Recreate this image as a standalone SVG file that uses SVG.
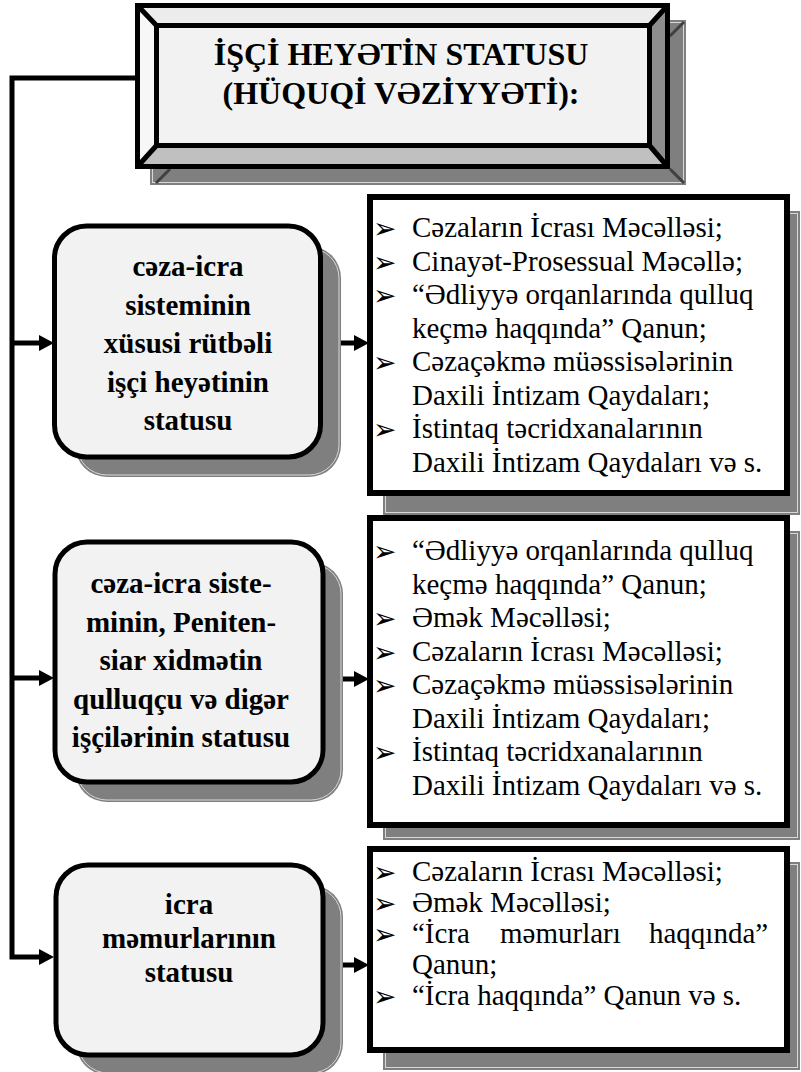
<svg xmlns="http://www.w3.org/2000/svg" width="801" height="1072" viewBox="0 0 801 1072">
<style>
.t{font-family:"Liberation Serif","DejaVu Serif","Times New Roman",serif;font-size:29px;fill:#000}
.b{font-family:"Liberation Serif","DejaVu Serif","Times New Roman",serif;font-size:29px;font-weight:bold;text-anchor:middle;fill:#000}
.h{font-family:"Liberation Serif","DejaVu Serif","Times New Roman",serif;font-size:32px;font-weight:bold;text-anchor:middle;fill:#000}
.bul{font-family:"DejaVu Sans",sans-serif;font-size:28px;fill:#000}
.sh{fill:#7f7f7f}
.shl{fill:none;stroke:#d8d8d8;stroke-width:1}
.lbox{fill:#f2f2f2;stroke:#000;stroke-width:5}
.rbox{fill:#fff;stroke:#000;stroke-width:6}
.conn{fill:none;stroke:#000;stroke-width:5}
</style>
<defs>
<marker id="ah" viewBox="0 0 15 16" refX="0" refY="8" markerWidth="15" markerHeight="16" markerUnits="userSpaceOnUse" orient="auto">
<path d="M0,0 L15,8 L0,16 z" fill="#000"/>
</marker>
</defs>
<rect width="801" height="1072" fill="#fff"/>

<g id="title">
<rect class="sh" x="150" y="20" width="536" height="165"/>
<rect class="shl" x="152.5" y="22.5" width="531" height="160"/>
<path d="M156,183 L170,169 M684,22 L670,36 M684,183 L670,169" stroke="#404040" stroke-width="3"/>
<polygon points="137.5,5.5 667.5,5.5 649.5,25.5 156.5,25.5" fill="#ececec"/>
<polygon points="137.5,5.5 156.5,25.5 156.5,145.5 137.5,166.5" fill="#f7f7f7"/>
<polygon points="137.5,166.5 156.5,145.5 649.5,145.5 667.5,166.5" fill="#c0c0c0"/>
<polygon points="667.5,5.5 649.5,25.5 649.5,145.5 667.5,166.5" fill="#8e8e8e"/>
<rect x="156.5" y="25.5" width="493" height="120" fill="#f2f2f2" stroke="#000" stroke-width="5"/>
<rect x="137.5" y="5.5" width="530" height="161" fill="none" stroke="#000" stroke-width="5"/>
<path d="M137.5,5.5 L156.5,25.5 M667.5,5.5 L649.5,25.5 M137.5,166.5 L156.5,145.5 M667.5,166.5 L649.5,145.5" stroke="#000" stroke-width="5"/>
<text class="h" x="401" y="65">İŞÇİ HEYƏTİN STATUSU</text>
<text class="h" x="401" y="104">(HÜQUQİ VƏZİYYƏTİ):</text>
</g>

<g id="connectors">
<path class="conn" d="M137,78 H12 V957 H39" marker-end="url(#ah)"/>
<path class="conn" d="M12,343 H39" marker-end="url(#ah)"/>
<path class="conn" d="M12,678 H39" marker-end="url(#ah)"/>
<path class="conn" d="M321,343 H354" marker-end="url(#ah)"/>
<path class="conn" d="M323,679 H354" marker-end="url(#ah)"/>
<path class="conn" d="M323,965 H354" marker-end="url(#ah)"/>
</g>

<g id="status1">
<rect class="sh" x="75" y="246" width="266" height="231" rx="32"/>
<rect class="shl" x="77" y="248" width="262" height="227" rx="30"/>
<rect class="lbox" x="54.5" y="226" width="266" height="231" rx="32"/>
<text class="b" x="188" y="276">cəza-icra</text>
<text class="b" x="188" y="314.5">sisteminin</text>
<text class="b" x="188" y="353">xüsusi rütbəli</text>
<text class="b" x="188" y="391.5">işçi heyətinin</text>
<text class="b" x="188" y="430">statusu</text>
</g>

<g id="laws1">
<rect class="sh" x="383" y="211" width="417" height="304"/>
<rect class="shl" x="385.5" y="213.5" width="412" height="299"/>
<rect class="rbox" x="370" y="197" width="417" height="296"/>
<text class="bul" x="373" y="238">➢</text>
<text class="t" x="412" y="237">Cəzaların İcrası Məcəlləsi;</text>
<text class="bul" x="373" y="271.5">➢</text>
<text class="t" x="412" y="270.5">Cinayət-Prosessual Məcəllə;</text>
<text class="bul" x="373" y="305">➢</text>
<text class="t" x="412" y="304">“Ədliyyə orqanlarında qulluq</text>
<text class="t" x="412" y="337.5">keçmə haqqında” Qanun;</text>
<text class="bul" x="373" y="372">➢</text>
<text class="t" x="412" y="371">Cəzaçəkmə müəssisələrinin</text>
<text class="t" x="412" y="404.5">Daxili İntizam Qaydaları;</text>
<text class="bul" x="373" y="439">➢</text>
<text class="t" x="412" y="438">İstintaq təcridxanalarının</text>
<text class="t" x="412" y="471.5">Daxili İntizam Qaydaları və s.</text>
</g>

<g id="status2">
<rect class="sh" x="75" y="562" width="268" height="240" rx="32"/>
<rect class="shl" x="77" y="564" width="264" height="236" rx="30"/>
<rect class="lbox" x="55" y="542" width="268" height="240" rx="32"/>
<text class="b" x="181" y="593">cəza-icra siste-</text>
<text class="b" x="181" y="631.5">minin, Peniten-</text>
<text class="b" x="181" y="670">siar xidmətin</text>
<text class="b" x="181" y="708.5">qulluqçu və digər</text>
<text class="b" x="181" y="747">işçilərinin statusu</text>
</g>

<g id="laws2">
<rect class="sh" x="383" y="531" width="417" height="309"/>
<rect class="shl" x="385.5" y="533.5" width="412" height="304"/>
<rect class="rbox" x="370" y="518" width="417" height="307"/>
<text class="bul" x="373" y="561">➢</text>
<text class="t" x="412" y="560">“Ədliyyə orqanlarında qulluq</text>
<text class="t" x="412" y="593.5">keçmə haqqında” Qanun;</text>
<text class="bul" x="373" y="628">➢</text>
<text class="t" x="412" y="627">Əmək Məcəlləsi;</text>
<text class="bul" x="373" y="661.5">➢</text>
<text class="t" x="412" y="660.5">Cəzaların İcrası Məcəlləsi;</text>
<text class="bul" x="373" y="695">➢</text>
<text class="t" x="412" y="694">Cəzaçəkmə müəssisələrinin</text>
<text class="t" x="412" y="727.5">Daxili İntizam Qaydaları;</text>
<text class="bul" x="373" y="762">➢</text>
<text class="t" x="412" y="761">İstintaq təcridxanalarının</text>
<text class="t" x="412" y="794.5">Daxili İntizam Qaydaları və s.</text>
</g>

<g id="status3">
<rect class="sh" x="76" y="885" width="267" height="190" rx="32"/>
<rect class="shl" x="78" y="887" width="263" height="186" rx="30"/>
<rect class="lbox" x="56" y="865" width="267" height="190" rx="32"/>
<text class="b" x="189" y="914">icra</text>
<text class="b" x="189" y="948">məmurlarının</text>
<text class="b" x="189" y="982">statusu</text>
</g>

<g id="laws3">
<rect class="sh" x="383" y="862" width="417" height="208"/>
<rect class="shl" x="385.5" y="864.5" width="412" height="203"/>
<rect class="rbox" x="370" y="849" width="417" height="201"/>
<text class="bul" x="373" y="882">➢</text>
<text class="t" x="412" y="881">Cəzaların İcrası Məcəlləsi;</text>
<text class="bul" x="373" y="913">➢</text>
<text class="t" x="412" y="912">Əmək Məcəlləsi;</text>
<text class="bul" x="373" y="944">➢</text>
<text class="t" y="943"><tspan x="412">“İcra</tspan> <tspan x="500">məmurları</tspan> <tspan x="649">haqqında”</tspan></text>
<text class="t" x="412" y="974">Qanun;</text>
<text class="bul" x="373" y="1006">➢</text>
<text class="t" x="412" y="1005">“İcra haqqında” Qanun və s.</text>
</g>
</svg>
